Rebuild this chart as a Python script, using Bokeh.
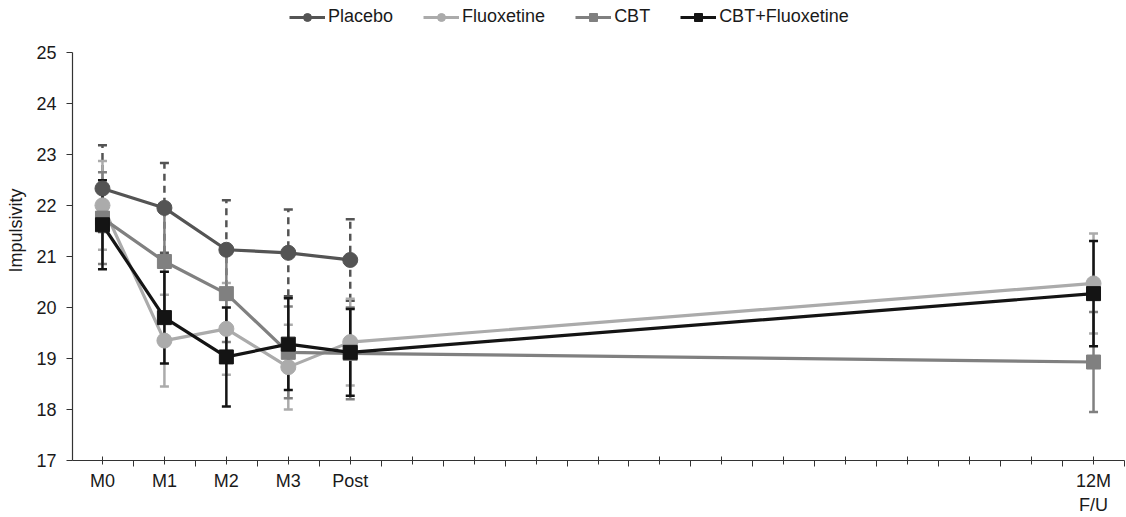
from bokeh.plotting import figure
from bokeh.models import (ColumnDataSource, Whisker, FixedTicker, Legend, LegendItem,
                          Range1d, TeeHead)
from bokeh.embed import file_html
from bokeh.resources import INLINE

# ---- data ----
tick_labels = {0: "M0", 1: "M1", 2: "M2", 3: "M3", 4: "Post", 16: "12M\nF/U"}
series_names = ["Placebo", "Fluoxetine", "CBT", "CBT+Fluoxetine"]
y_ticks = [17, 18, 19, 20, 21, 22, 23, 24, 25]

placebo_x = [0, 1, 2, 3, 4]
placebo_y = [22.33, 21.95, 21.13, 21.07, 20.93]
placebo_err = [0.85, 0.88, 0.97, 0.85, 0.80]

fluox_x = [0, 1, 2, 3, 4, 16]
fluox_y = [22.00, 19.35, 19.58, 18.83, 19.32, 20.47]
fluox_err = [0.87, 0.90, 0.90, 0.83, 0.85, 0.98]

cbt_x = [0, 1, 2, 3, 4, 16]
cbt_y = [21.75, 20.90, 20.27, 19.12, 19.10, 18.93]
cbt_err = [0.90, 1.00, 0.95, 0.90, 0.90, 0.98]

combo_x = [0, 1, 2, 3, 4, 16]
combo_y = [21.62, 19.80, 19.03, 19.28, 19.12, 20.27]
combo_err = [0.87, 0.90, 0.97, 0.90, 0.85, 1.03]

colors = ["#545454", "#ababab", "#808080", "#141414"]
markers = ["circle", "circle", "square", "square"]

FONT = "Liberation Sans"

# frame spans the full height above the x axis; the y axis line is bounded 17..25
PX_PER_UNIT = 51.25
FRAME_H = 462
y_top = 17 + FRAME_H / PX_PER_UNIT

p = figure(width=1126, height=517, output_backend="svg", toolbar_location=None,
           x_range=Range1d(-0.484, 16.5), y_range=Range1d(17, y_top),
           min_border_left=72, min_border_right=2, min_border_top=0,
           min_border_bottom=55)
p.outline_line_color = None
p.xgrid.visible = False
p.ygrid.visible = False
p.background_fill_color = "white"
p.border_fill_color = "white"

# axes
p.xaxis.ticker = FixedTicker(ticks=list(range(17)),
                             minor_ticks=[i + 0.5 for i in range(-1, 17)])
p.xaxis.major_label_overrides = {i: tick_labels.get(i, "") for i in range(17)}
p.xaxis.major_tick_in = 4
p.xaxis.major_tick_out = 4
p.xaxis.minor_tick_in = 0
p.xaxis.minor_tick_out = 6
p.xaxis.major_label_standoff = 4

p.yaxis.ticker = FixedTicker(ticks=y_ticks, minor_ticks=[])
p.yaxis.bounds = (y_ticks[0], y_ticks[-1])
p.yaxis.major_tick_in = 0
p.yaxis.major_tick_out = 6
p.yaxis.major_label_standoff = 10
p.yaxis.axis_label = "Impulsivity"
p.yaxis.axis_label_standoff = 7

for ax in (p.xaxis, p.yaxis):
    ax.axis_line_color = "#333333"
    ax.major_tick_line_color = "#333333"
    ax.minor_tick_line_color = "#333333"
    ax.axis_line_width = 1.2
    ax.major_label_text_font = FONT
    ax.major_label_text_font_size = "18px"
    ax.major_label_text_color = "#1a1a1a"
    ax.axis_label_text_font = FONT
    ax.axis_label_text_font_size = "18px"
    ax.axis_label_text_font_style = "normal"
    ax.axis_label_text_color = "#1a1a1a"

all_x = [placebo_x, fluox_x, cbt_x, combo_x]
all_y = [placebo_y, fluox_y, cbt_y, combo_y]
all_e = [placebo_err, fluox_err, cbt_err, combo_err]

# error bars
for i in range(4):
    src = ColumnDataSource(dict(x=all_x[i],
                                lo=[y - e for y, e in zip(all_y[i], all_e[i])],
                                hi=[y + e for y, e in zip(all_y[i], all_e[i])]))
    dash = "7 5" if i == 0 else "solid"
    w = Whisker(base="x", lower="lo", upper="hi", source=src,
                line_color=colors[i], line_width=2.5, line_dash=dash,
                upper_head=TeeHead(size=9, line_color=colors[i], line_width=2.5),
                lower_head=TeeHead(size=9, line_color=colors[i], line_width=2.5),
                level="underlay")
    p.add_layout(w)

items = []
for i in range(4):
    src = ColumnDataSource(dict(x=all_x[i], y=all_y[i]))
    ln = p.line("x", "y", source=src, line_color=colors[i], line_width=3.2)
    mk = p.scatter("x", "y", source=src, marker=markers[i],
                   size=15 if markers[i] == "circle" else 14,
                   fill_color=colors[i], line_color=colors[i])
    items.append(LegendItem(label=series_names[i], renderers=[ln, mk]))

legend = Legend(items=items, orientation="horizontal", location=(217, 433),
                label_text_font=FONT, label_text_font_size="18px",
                label_text_color="#1a1a1a", glyph_width=36, glyph_height=20,
                label_height=20, label_standoff=3, spacing=30, padding=0, margin=0,
                border_line_color=None, background_fill_alpha=0)
p.add_layout(legend, "center")

open("out.html", "w").write(file_html(p, INLINE))
